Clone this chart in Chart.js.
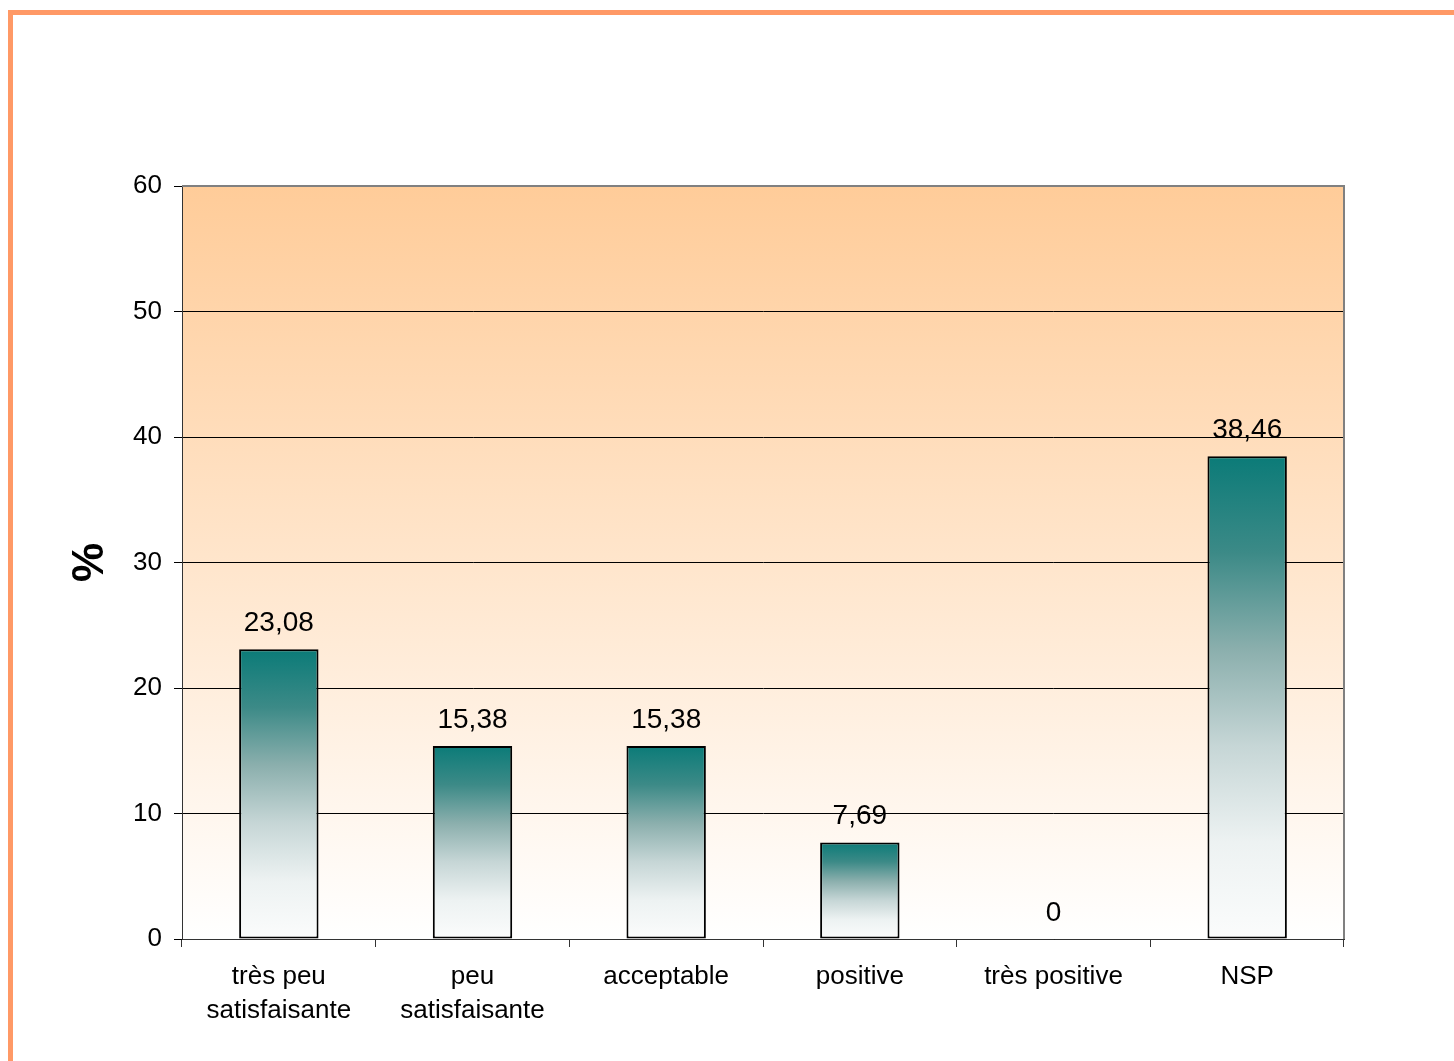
<!DOCTYPE html>
<html>
<head>
<meta charset="utf-8">
<script src="https://cdn.jsdelivr.net/npm/chart.js@4/dist/chart.umd.min.js"></script>
<style>
  html, body { margin: 0; padding: 0; background: #fff; overflow: hidden; }
  #cadre { position: absolute; left: 8px; top: 10px; width: 2000px; height: 2000px; border: 5px solid #FF9966; box-sizing: border-box; }
  canvas { position: absolute; left: 0; top: 0; }
</style>
</head>
<body>
<div id="cadre"></div>
<canvas id="chart" width="1454" height="1061"></canvas>
<script>
// données
const categories = [["très peu", "satisfaisante"], ["peu", "satisfaisante"], "acceptable", "positive", "très positive", "NSP"];
const valeurs = [23.08, 15.38, 15.38, 7.69, 0, 38.46];
const yTicks = [0, 10, 20, 30, 40, 50, 60];

const police = "'Liberation Sans', Arial, sans-serif";

// fond dégradé + bord gris haut/droite
const fond = {
  id: "fond",
  beforeDraw(chart) {
    const { ctx, chartArea: a } = chart;
    const g = ctx.createLinearGradient(0, a.top, 0, a.bottom);
    g.addColorStop(0, "#FFCC99");
    g.addColorStop(1, "#FFFFFF");
    ctx.save();
    ctx.fillStyle = g;
    ctx.fillRect(a.left, a.top, a.right - a.left, a.bottom - a.top);
    ctx.restore();
  },
  afterDraw(chart) {
    const { ctx, chartArea: a } = chart;
    ctx.save();
    ctx.strokeStyle = "#808080";
    ctx.lineWidth = 2;
    ctx.beginPath();
    ctx.moveTo(a.left, a.top);
    ctx.lineTo(a.right, a.top);
    ctx.lineTo(a.right, a.bottom);
    ctx.stroke();
    ctx.restore();
  }
};

// étiquettes de valeur
const etiquettes = {
  id: "etiquettes",
  afterDatasetsDraw(chart) {
    const { ctx } = chart;
    const meta = chart.getDatasetMeta(0);
    ctx.save();
    ctx.font = "28px " + police;
    ctx.fillStyle = "#000";
    ctx.textAlign = "center";
    ctx.textBaseline = "middle";
    meta.data.forEach((bar, i) => {
      const txt = String(valeurs[i]).replace(".", ",");
      ctx.fillText(txt, bar.x, bar.y - 26);
    });
    ctx.restore();
  }
};

function degradeBarre(c) {
  const chart = c.chart;
  const y = chart.scales.y;
  if (!y || typeof c.raw !== "number") return "#0E7C7B";
  const haut = y.getPixelForValue(c.raw);
  const bas = y.getPixelForValue(0);
  if (!isFinite(haut) || !isFinite(bas) || bas - haut < 1) return "#0E7C7B";
  const g = chart.ctx.createLinearGradient(0, haut, 0, bas);
  g.addColorStop(0, "#0B7B78");
  g.addColorStop(0.2, "#3C8A87");
  g.addColorStop(0.4, "#8BAFAD");
  g.addColorStop(0.6, "#C6D6D6");
  g.addColorStop(0.8, "#EDF2F2");
  g.addColorStop(1, "#FBFCFC");
  return g;
}

new Chart(document.getElementById("chart"), {
  type: "bar",
  data: {
    labels: categories,
    datasets: [{
      data: valeurs,
      backgroundColor: degradeBarre,
      borderColor: "#000",
      borderWidth: c => (c.raw === 0 ? 0 : 2),
      borderSkipped: false,
      barPercentage: 0.41,
      categoryPercentage: 1
    }]
  },
  options: {
    responsive: false,
    animation: false,
    layout: { padding: { top: 186, right: 110, left: 0, bottom: 0 } },
    plugins: {
      legend: { display: false },
      tooltip: { enabled: false }
    },
    scales: {
      x: {
        grid: { display: true, drawOnChartArea: false, offset: true, tickLength: 8, color: "#333" },
        border: { color: "#333", width: 1 },
        ticks: { color: "#000", font: { family: police, size: 26, lineHeight: 1.3 }, padding: 13, maxRotation: 0, autoSkip: false },
        afterFit(s) { s.height = 122; }
      },
      y: {
        min: 0,
        max: 60,
        afterBuildTicks(s) { s.ticks = yTicks.map(v => ({ value: v })); },
        grid: { color: "#000", lineWidth: 1, tickLength: 8 },
        border: { color: "#333", width: 1 },
        ticks: { color: "#000", font: { family: police, size: 26 }, padding: 12 },
        title: { display: true, text: "%", color: "#000", font: { family: police, size: 44, weight: "bold" }, padding: { top: 64, bottom: 0 } },
        afterFit(s) { s.width = 182; }
      }
    }
  },
  plugins: [fond, etiquettes]
});
</script>
</body>
</html>
